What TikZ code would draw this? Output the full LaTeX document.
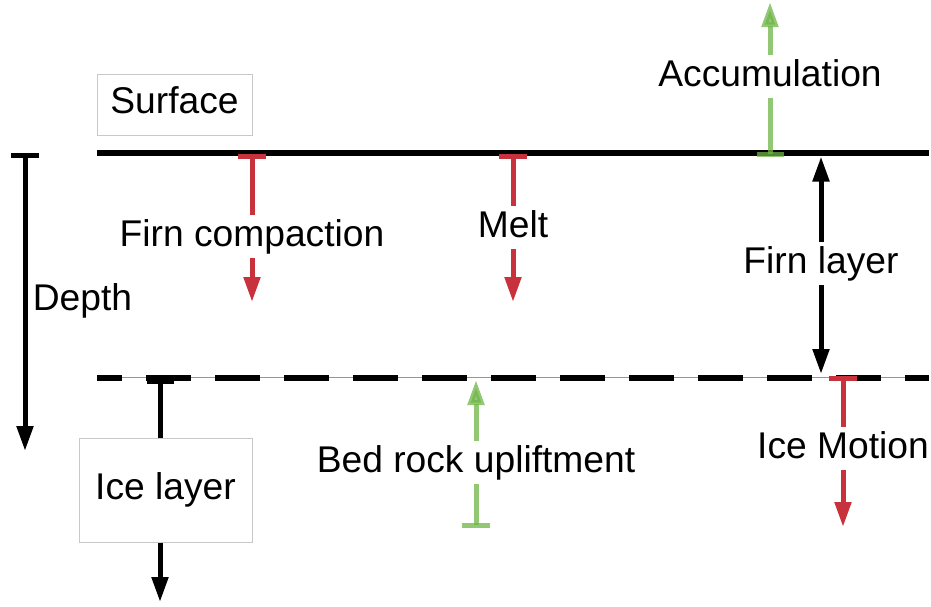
\documentclass[tikz,border=0pt]{standalone}
\usepackage{fontspec}
\setmainfont{Liberation Sans}
\usetikzlibrary{arrows.meta}

\definecolor{lossred}{RGB}{200,50,60}
\definecolor{gaingreen}{RGB}{110,180,70}
\definecolor{framegray}{RGB}{200,200,200}
\definecolor{guidegray}{RGB}{150,150,150}

\begin{document}
\begin{tikzpicture}[x=1pt,y=-1pt,
  bigtext/.style={font=\fontsize{37.2}{44}\selectfont,
                  text height=27.75pt, text depth=9.25pt},
  lbl/.style={bigtext, inner sep=3pt, anchor=base},
  frame/.style={bigtext, draw=framegray, line width=1pt, inner sep=0pt},
  conn/.style={line width=5pt},
  head/.style={-{Triangle[length=25pt,width=16pt]}},
  blackc/.style={conn, draw=black},
  redc/.style={conn, draw=lossred},
  greenc/.style={conn, draw=gaingreen, draw opacity=0.75, fill opacity=0.75}
]
\useasboundingbox (0,0) rectangle (931,606);

% ---- layer boundaries ----
\coordinate (s0) at (97,153);
\coordinate (s1) at (929,153);
\draw[line width=6.5pt] (s0) -- (s1);

\coordinate (d0) at (97,377.5);
\coordinate (d1) at (929,377.5);
\draw[line width=1.5pt, guidegray] (d0) -- (d1);
\draw[line width=6pt, dash pattern=on 45pt off 24pt, dash phase=20pt] (d0) -- (d1);

% ---- boxed labels ----
\node[frame, minimum width=155pt, minimum height=61pt] (sfc) at (174.5,104.5) {Surface};
\node[frame, minimum width=173pt, minimum height=104pt] (ice) at (165.5,490) {Ice layer};

% ---- free labels ----
\node[lbl] (dep) at (82.5,310) {Depth};
\node[lbl] (fc)  at (252,246) {Firn compaction};
\node[lbl] (mlt) at (513,237) {Melt};
\node[lbl] (acc) at (770,86)  {Accumulation};
\node[lbl] (frn) at (821,273) {Firn layer};
\node[lbl] (bed) at (476,472) {Bed rock upliftment};
\node[lbl] (imo) at (843,458) {Ice Motion};

% ---- depth axis ----
\coordinate (dpA) at (25,155.5);
\coordinate (dpB) at (25,451);
\draw[blackc] ([xshift=-14pt]dpA) -- ([xshift=14pt]dpA);
\draw[blackc, head] (dpA) -- (dpB);

% ---- firn compaction ----
\coordinate (fcA) at (252,156.5);
\coordinate (fcB) at (252,302);
\draw[redc] (fcA) -- (fc.north);
\draw[redc, head] (fc.south) -- (fcB);
\draw[redc] ([xshift=-14pt]fcA) -- ([xshift=14pt]fcA);

% ---- melt ----
\coordinate (mlA) at (513,156.5);
\coordinate (mlB) at (513,302);
\draw[redc] (mlA) -- (mlt.north);
\draw[redc, head] (mlt.south) -- (mlB);
\draw[redc] ([xshift=-14pt]mlA) -- ([xshift=14pt]mlA);

% ---- accumulation ----
\coordinate (acA) at (770,154);
\coordinate (acB) at (770,2);
\draw[greenc] (acA) -- (acc.south);
\draw[greenc, head] (acc.north) -- (acB);
\draw[greenc] ([xshift=-13.5pt]acA) -- ([xshift=13.5pt]acA);

% ---- firn layer thickness ----
\coordinate (frA) at (821,156.5);
\coordinate (frB) at (821,374);
\draw[blackc, head] (frn.north) -- (frA);
\draw[blackc, head] (frn.south) -- (frB);

% ---- ice layer ----
\coordinate (ilA) at (160,380.5);
\coordinate (ilB) at (160,602);
\draw[blackc] (ilA) -- (ilA |- ice.north);
\draw[blackc, head] (ilA |- ice.south) -- (ilB);
\draw[line width=6pt] ([xshift=-13.5pt]ilA) -- ([xshift=13.5pt]ilA);

% ---- bed rock upliftment ----
\coordinate (brA) at (476,525);
\coordinate (brB) at (476,380);
\draw[greenc] (brA) -- (bed.south);
\draw[greenc, head] (bed.north) -- (brB);
\draw[greenc] ([xshift=-14pt]brA) -- ([xshift=14pt]brA);

% ---- ice motion ----
\coordinate (imA) at (843,378);
\coordinate (imB) at (843,527);
\draw[redc] (imA) -- (imo.north);
\draw[redc, head] (imo.south) -- (imB);
\draw[redc] ([xshift=-14pt]imA) -- ([xshift=14pt]imA);
\end{tikzpicture}
\end{document}
